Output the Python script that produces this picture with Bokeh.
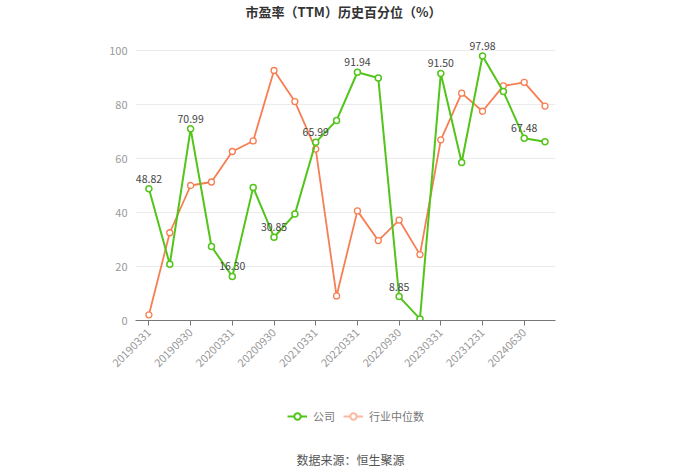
from bokeh.plotting import figure
from bokeh.layouts import column
from bokeh.models import (ColumnDataSource, Range1d, FixedTicker, Legend, LegendItem, Label)
from bokeh.core.properties import value
from bokeh.embed import file_html
from bokeh.resources import INLINE

dates = ["20190331", "20190630", "20190930", "20191231", "20200331", "20200630",
         "20200930", "20201231", "20210331", "20211231", "20220331", "20220630",
         "20220930", "20221231", "20230331", "20230930", "20231231", "20240331",
         "20240630", "20240930"]
company = [48.82, 20.8, 70.99, 27.4, 16.30, 49.3, 30.85, 39.4, 65.99, 74.1,
           91.94, 89.8, 8.85, 0.6, 91.50, 58.5, 97.98, 84.8, 67.48, 66.2]
industry = [2.1, 32.5, 50.0, 51.3, 62.6, 66.5, 92.6, 81.1, 63.5, 9.1,
            40.6, 29.6, 37.2, 24.4, 66.9, 84.2, 77.5, 86.9, 88.2, 79.4]
y_ticks = [0, 20, 40, 60, 80, 100]

title_text = "市盈率（TTM）历史百分位（%）"
source_text = "数据来源：恒生聚源"
series_names = ["公司", "行业中位数"]

GREEN = "#52C41A"
ORANGE = "#F77E52"
ORANGE_LIGHT = "#F9B9A0"
FONT = "Noto Sans CJK SC"

W = 700
MAIN_H = 395
BOT_H = 473 - MAIN_H
LEFT = 135           # frame left pixel
RIGHT = 555          # frame right pixel
FRAME_BOTTOM = 320   # pixel row of y=0
FRAME_100 = 50       # pixel row of y=100
y_top = 100 * FRAME_BOTTOM / (FRAME_BOTTOM - FRAME_100)
n = len(dates)
band = 417 / n
x_start = -0.5 - (138 - LEFT) / band

idx = list(range(n))
src = ColumnDataSource(dict(x=idx, c=company, i=industry))
lab_idx = idx[::2]
lab_src = ColumnDataSource(dict(x=lab_idx, y=[company[k] for k in lab_idx],
                                t=["%.2f" % company[k] for k in lab_idx]))

p = figure(width=W, height=MAIN_H, output_backend="svg", toolbar_location=None,
           x_range=Range1d(x_start, n - 0.5), y_range=Range1d(0, y_top),
           min_border_left=LEFT, min_border_right=W - RIGHT, min_border_top=0,
           min_border_bottom=MAIN_H - FRAME_BOTTOM)
p.outline_line_color = None
p.background_fill_color = "white"
p.border_fill_color = "white"

p.xgrid.grid_line_color = None
p.ygrid.grid_line_color = "#EBEBEB"
p.yaxis.ticker = FixedTicker(ticks=y_ticks)
p.yaxis.axis_line_color = None
p.yaxis.major_tick_line_color = None
p.yaxis.minor_tick_line_color = None
p.yaxis.major_label_text_color = "#999999"
p.yaxis.major_label_text_font = FONT
p.yaxis.major_label_text_font_size = "11px"
p.yaxis.major_label_standoff = 2

p.xaxis.ticker = FixedTicker(ticks=idx[::2])
p.xaxis.major_label_overrides = {k: dates[k] for k in idx[::2]}
p.xaxis.major_label_orientation = 0.785398
p.xaxis.axis_line_color = "#777777"
p.xaxis.major_tick_line_color = "#777777"
p.xaxis.major_tick_in = 0
p.xaxis.major_tick_out = 5
p.xaxis.minor_tick_line_color = None
p.xaxis.major_label_text_color = "#999999"
p.xaxis.major_label_text_font = FONT
p.xaxis.major_label_text_font_size = "11px"

p.line("x", "i", source=src, line_color=ORANGE, line_width=1.8)
p.scatter("x", "i", source=src, size=6, fill_color="white", line_color=ORANGE, line_width=1.3)
p.line("x", "c", source=src, line_color=GREEN, line_width=2)
p.scatter("x", "c", source=src, size=6, fill_color="white", line_color=GREEN, line_width=1.5)

p.text("x", "y", text="t", source=lab_src, text_align="center", text_baseline="bottom",
       y_offset=-6, text_font=value(FONT), text_font_size="10.5px", text_color="#444444")

p.add_layout(Label(x=(LEFT + RIGHT) / 2 - LEFT - 2, y=FRAME_BOTTOM - 11, x_units="screen",
                   y_units="screen", text=title_text, text_align="center",
                   text_baseline="middle", text_font=FONT, text_font_size="13px",
                   text_font_style="bold", text_color="#333333"))

# bottom strip: legend and source (x data units = page pixels)
b = figure(width=W, height=BOT_H, output_backend="svg", toolbar_location=None,
           x_range=Range1d(LEFT, RIGHT), y_range=Range1d(0, BOT_H),
           min_border_left=LEFT, min_border_right=W - RIGHT, min_border_top=0,
           min_border_bottom=0, x_axis_location=None, y_axis_location=None)
b.outline_line_color = None
b.xgrid.grid_line_color = None
b.ygrid.grid_line_color = None

e = ColumnDataSource(dict(x=[-1000], y=[-1000]))
lg1 = b.line("x", "y", source=e, line_color=GREEN, line_width=2)
sg1 = b.scatter("x", "y", source=e, size=8, fill_color="white", line_color=GREEN, line_width=2)
lg2 = b.line("x", "y", source=e, line_color=ORANGE_LIGHT, line_width=2)
sg2 = b.scatter("x", "y", source=e, size=8, fill_color="white", line_color=ORANGE_LIGHT, line_width=2)

legend = Legend(items=[LegendItem(label=series_names[0], renderers=[lg1, sg1]),
                       LegendItem(label=series_names[1], renderers=[lg2, sg2])],
                orientation="horizontal", location=(287 - LEFT, BOT_H - 29),
                label_text_font=FONT, label_text_font_size="11px", label_text_color="#777777",
                border_line_color=None, background_fill_alpha=0, glyph_width=20,
                glyph_height=16, label_height=16, label_standoff=6,
                spacing=8, margin=0, padding=0)
b.add_layout(legend, "center")

b.add_layout(Label(x=350, y=473 - 459, text=source_text, text_align="center",
                   text_baseline="middle", text_font=FONT, text_font_size="12px",
                   text_color="#555555"))

layout = column(p, b, spacing=0)
open("out.html", "w").write(file_html(layout, INLINE))
